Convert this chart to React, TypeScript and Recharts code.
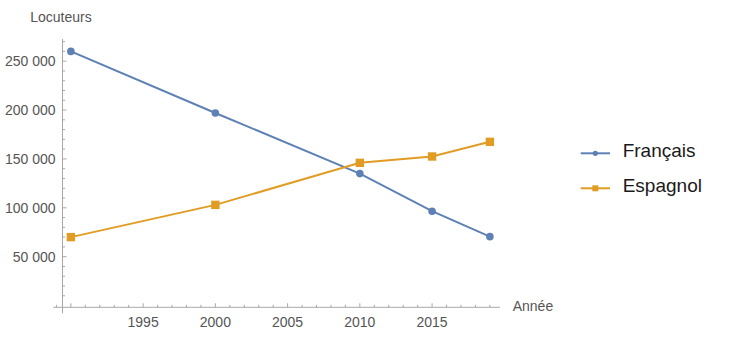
import React from 'react';
import { LineChart, Line, XAxis, YAxis, Legend, ReferenceLine } from 'recharts';

const years = [1990, 2000, 2010, 2015, 2019];
const francais = [260000, 197000, 135000, 96500, 70500];
const espagnol = [70000, 103000, 146000, 152500, 167500];
const seriesNames = ['Français', 'Espagnol'];

const xTicks = [
  1990, 1991, 1992, 1993, 1994, 1995, 1996, 1997, 1998, 1999,
  2000, 2001, 2002, 2003, 2004, 2005, 2006, 2007, 2008, 2009,
  2010, 2011, 2012, 2013, 2014, 2015, 2016, 2017, 2018, 2019,
];
const xLabels = [1995, 2000, 2005, 2010, 2015];
const yTicks = [
  10000, 20000, 30000, 40000, 50000, 60000, 70000, 80000, 90000,
  100000, 110000, 120000, 130000, 140000, 150000, 160000, 170000, 180000, 190000,
  200000, 210000, 220000, 230000, 240000, 250000, 260000, 270000,
];
const yLabels = [50000, 100000, 150000, 200000, 250000];

const BLUE = '#5e81b5';
const ORANGE = '#e19c24';
const AXIS = '#a8a8a8';
const LABEL = '#555555';

const X_MIN = 1989.42;
const X_MAX = 2019.7;
const Y_MIN = -1800;
const Y_MAX = 272700;

const data = years.map((year, i) => ({
  year,
  francais: francais[i],
  espagnol: espagnol[i],
}));

const fmt = (v: number) =>
  `${Math.floor(v / 1000)} ${String(v % 1000).padStart(3, '0')}`;

function XTick({ x, y, payload }: any) {
  const v = Math.round(payload.value);
  const major = v % 5 === 0;
  return (
    <g>
      <line x1={x} x2={x} y1={y} y2={y - (major ? 4 : 2.5)} stroke={AXIS} />
      {xLabels.includes(v) && (
        <text x={x} y={y + 19.5} textAnchor="middle" fill={LABEL} fontSize={14}>
          {v}
        </text>
      )}
    </g>
  );
}

function YTick({ x, y, payload }: any) {
  const v = Math.round(payload.value);
  const major = v % 50000 === 0;
  return (
    <g>
      <line x1={x} x2={x + (major ? 4 : 2.5)} y1={y} y2={y} stroke={AXIS} />
      {yLabels.includes(v) && (
        <text x={x - 7} y={y + 5} textAnchor="end" fill={LABEL} fontSize={14}>
          {fmt(v)}
        </text>
      )}
    </g>
  );
}

function SquareDot(props: any) {
  const { cx, cy, index } = props;
  return <rect key={`sq-${index}`} x={cx - 4.2} y={cy - 4.2} width={8.4} height={8.4} fill={ORANGE} />;
}

function LegendContent({ payload }: any) {
  const items = [...(payload || [])].sort(
    (a: any, b: any) => seriesNames.indexOf(a.value) - seriesNames.indexOf(b.value)
  );
  return (
    <svg width={150} height={70}>
      {items.map((entry: any, i: number) => {
        const cy = 13.3 + 35 * i;
        const isCircle = entry.value === 'Français';
        return (
          <g key={entry.value}>
            <line x1={2.7} x2={32} y1={cy} y2={cy} stroke={entry.color} strokeWidth={2} />
            {isCircle ? (
              <circle cx={17.3} cy={cy} r={2.6} fill={entry.color} />
            ) : (
              <rect x={14.3} y={cy - 3} width={6} height={6} fill={entry.color} />
            )}
            <text x={44.7} y={cy + 3.4} fontSize={19} fill="#1a1a1a">
              {entry.value}
            </text>
          </g>
        );
      })}
    </svg>
  );
}

export default function App() {
  return (
    <div
      style={{
        position: 'absolute',
        left: 0,
        top: 0,
        width: 739,
        height: 354,
        background: '#fff',
        fontFamily: '"Liberation Sans", Arial, sans-serif',
      }}
    >
      <LineChart
        width={739}
        height={354}
        data={data}
        margin={{ top: 39, right: 239, bottom: 16.7, left: 0 }}
      >
        <XAxis
          dataKey="year"
          type="number"
          domain={[X_MIN, X_MAX]}
          allowDataOverflow
          ticks={xTicks}
          interval={0}
          height={30}
          tickSize={0}
          tickMargin={0}
          tickLine={false}
          axisLine={{ stroke: AXIS }}
          tick={<XTick />}
          label={{
            content: ({ viewBox }: any) => (
              <text
                x={(viewBox?.x ?? 62.5) + (viewBox?.width ?? 437.5) + 12.7}
                y={(viewBox?.y ?? 307.3) + 4}
                fill={LABEL}
                fontSize={14}
              >
                Année
              </text>
            ),
          }}
        />
        <YAxis
          type="number"
          domain={[Y_MIN, Y_MAX]}
          allowDataOverflow
          ticks={yTicks}
          interval={0}
          width={62.5}
          tickSize={0}
          tickMargin={0}
          tickLine={false}
          axisLine={{ stroke: AXIS }}
          tick={<YTick />}
          label={{
            content: ({ viewBox }: any) => (
              <text
                x={(viewBox?.x ?? 0) + (viewBox?.width ?? 62.5) - 1.5}
                y={(viewBox?.y ?? 39) - 17.3}
                textAnchor="middle"
                fill={LABEL}
                fontSize={14}
              >
                Locuteurs
              </text>
            ),
          }}
        />
        <ReferenceLine
          segment={[{ x: 1988.78, y: Y_MIN }, { x: X_MIN, y: Y_MIN }]}
          stroke={AXIS}
          ifOverflow="visible"
        />
        <ReferenceLine
          segment={[{ x: X_MIN, y: Y_MIN }, { x: X_MIN, y: -7900 }]}
          stroke={AXIS}
          ifOverflow="visible"
        />
        <ReferenceLine
          segment={[{ x: 1989, y: Y_MIN }, { x: 1989, y: 760 }]}
          stroke={AXIS}
          ifOverflow="visible"
        />
        <Line
          name={seriesNames[0]}
          dataKey="francais"
          stroke={BLUE}
          strokeWidth={2}
          dot={{ r: 3.8, fill: BLUE, stroke: 'none', strokeWidth: 0 }}
          isAnimationActive={false}
        />
        <Line
          name={seriesNames[1]}
          dataKey="espagnol"
          stroke={ORANGE}
          strokeWidth={2}
          dot={<SquareDot />}
          isAnimationActive={false}
        />
        <Legend
          layout="vertical"
          align="center"
          verticalAlign="middle"
          content={<LegendContent />}
          wrapperStyle={{ position: 'absolute', left: 578, top: 140, width: 150, height: 70 }}
        />
      </LineChart>
    </div>
  );
}
